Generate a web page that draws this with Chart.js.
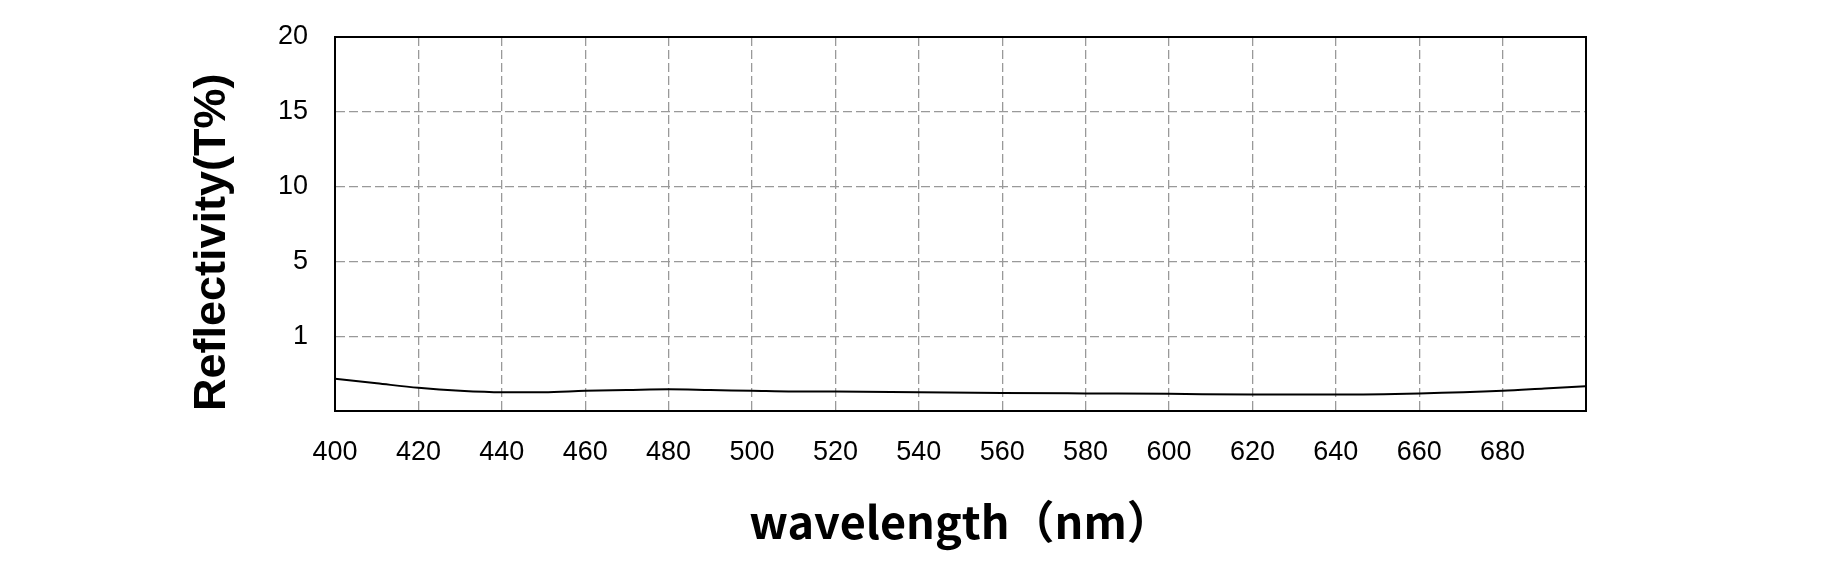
<!DOCTYPE html>
<html>
<head>
<meta charset="utf-8">
<script src="https://cdn.jsdelivr.net/npm/chart.js@4.4.1/dist/chart.umd.min.js"></script>
<style>
  html, body { margin: 0; padding: 0; background: #fff; }
  #wrap { width: 1835px; height: 576px; position: relative; }
</style>
</head>
<body>
<div id="wrap"><canvas id="reflChart"></canvas></div>
<script>
const wavelengths = [400, 410, 420, 430, 440, 450, 460, 470, 480, 490, 500, 510, 520, 540, 560, 580, 600, 620, 640, 660, 680, 690, 700];
const reflectivity = [0.43, 0.37, 0.31, 0.27, 0.25, 0.25, 0.27, 0.28, 0.29, 0.28, 0.27, 0.26, 0.26, 0.25, 0.24, 0.235, 0.23, 0.22, 0.22, 0.235, 0.27, 0.30, 0.33];
const yTickLabels = ['', '1', '5', '10', '15', '20'];
const xTitle = 'wavelength（nm）';
const yTitle = 'Reflectivity(T%)';

// solid black box round the plot area
const frame = {
    id: 'frame',
    afterDatasetsDraw(chart) {
        const a = chart.chartArea;
        const ctx = chart.ctx;
        ctx.save();
        ctx.strokeStyle = '#000';
        ctx.lineWidth = 2;
        ctx.strokeRect(a.left, a.top, a.right - a.left, a.bottom - a.top);
        ctx.restore();
    }
};

document.addEventListener('DOMContentLoaded', () => {
    const ctx = document.getElementById('reflChart').getContext('2d');
    new Chart(ctx, {
        type: 'line',
        data: {
            datasets: [{
                label: 'Reflectivity',
                data: wavelengths.map((w, i) => ({ x: w, y: reflectivity[i] })),
                borderColor: '#000',
                borderWidth: 2,
                pointRadius: 0,
                fill: false,
                cubicInterpolationMode: 'monotone'
            }]
        },
        options: {
            responsive: true,
            maintainAspectRatio: false,
            animation: false,
            layout: { padding: { top: 37, right: 249, bottom: 0, left: 0 } },
            plugins: { legend: { display: false }, tooltip: { enabled: false } },
            scales: {
                x: {
                    type: 'linear',
                    min: 400,
                    max: 700,
                    afterFit: s => { s.height = 165; },
                    ticks: {
                        stepSize: 20,
                        padding: 25,
                        color: '#000',
                        font: { family: 'Liberation Sans, Arial', size: 27 },
                        callback: v => (v < 700 ? v : '')
                    },
                    grid: { color: '#999', lineWidth: 1.3, drawTicks: false },
                    border: { display: true, color: '#000', width: 2, dash: [9, 4] },
                    title: {
                        display: true,
                        text: xTitle,
                        color: '#000',
                        font: { family: 'Noto Sans CJK SC', size: 45, weight: 'bold' },
                        padding: { top: 0, bottom: 27 }
                    }
                },
                y: {
                    min: 0,
                    max: 5,
                    afterFit: s => {
                        s.width = 335;
                        s.paddingTop = 0;
                        s.paddingBottom = 0;
                    },
                    ticks: {
                        stepSize: 1,
                        padding: 27,
                        color: '#000',
                        font: { family: 'Liberation Sans, Arial', size: 27 },
                        callback: v => yTickLabels[v]
                    },
                    grid: { color: '#999', lineWidth: 1.3, drawTicks: false },
                    border: { display: true, color: '#000', width: 2, dash: [9, 4] },
                    title: {
                        display: true,
                        text: yTitle,
                        align: 'start',
                        color: '#000',
                        font: { family: 'Liberation Sans, Arial', size: 45, weight: 'bold' },
                        padding: { top: 186, bottom: 0 }
                    }
                }
            }
        },
        plugins: [frame]
    });
});
</script>
</body>
</html>
